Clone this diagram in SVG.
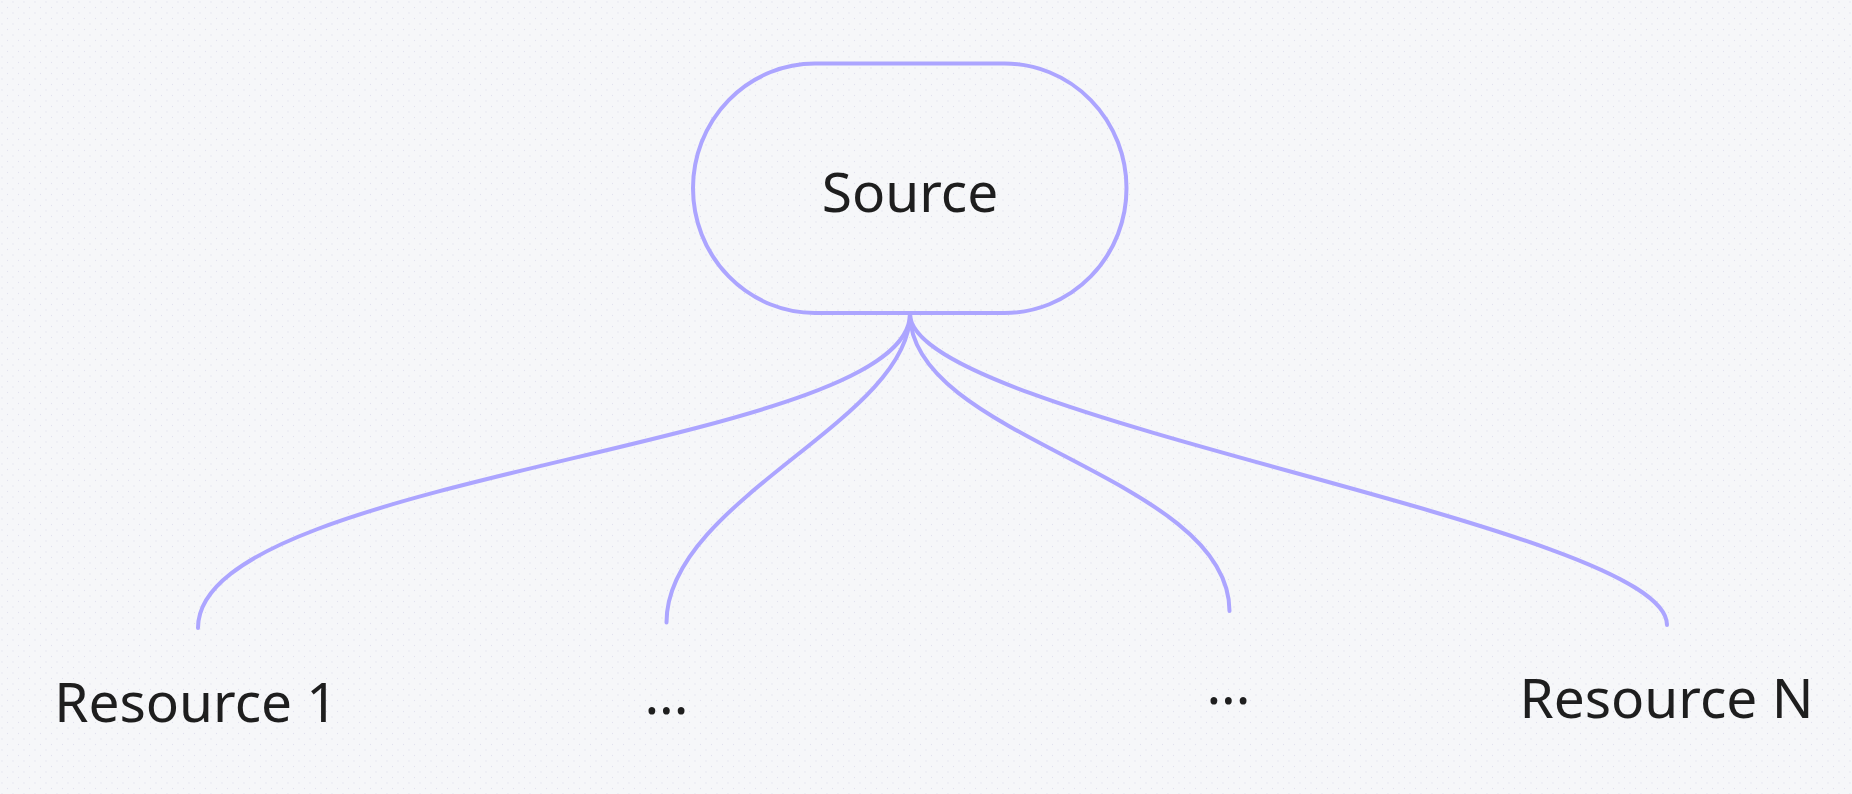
<svg xmlns="http://www.w3.org/2000/svg" width="1852" height="794" viewBox="0 0 1852 794">
  <defs>
    <pattern id="dots" width="11" height="11" patternUnits="userSpaceOnUse">
      <circle cx="2" cy="2" r="0.7" fill="#e2e2ee"/>
      <circle cx="7.5" cy="7.5" r="0.7" fill="#e2e2ee"/>
    </pattern>
  </defs>
  <style>
    .node-shape { fill: none; stroke: #aca5ff; stroke-width: 4; }
    .edge { fill: none; stroke: #aca5ff; stroke-width: 4; stroke-linecap: round; }
    .label { font-family: "Noto Sans", "Open Sans", sans-serif; font-size: 55px; fill: #1e1e1e; text-anchor: middle; }
  </style>
  <rect x="0" y="0" width="1852" height="794" fill="#f6f7f9"/>
  <rect x="0" y="0" width="1852" height="794" fill="url(#dots)"/>

  <g id="connectors">
    <path class="edge" d="M910 314 C910 447 198 473 198 628"/>
    <path class="edge" d="M910 314 C910 420 666.5 500 666.5 622.5"/>
    <path class="edge" d="M910 314 C910 439 1229.5 476 1229.5 611"/>
    <path class="edge" d="M910 314 C910 418 1667 525 1667 625"/>
  </g>

  <g id="source">
    <rect class="node-shape" x="693" y="63.5" width="433.5" height="249.5" rx="122" ry="124.75"/>
    <text class="label" x="910" y="211.5">Source</text>
  </g>

  <g id="resource-1">
    <text class="label" x="196" y="721.5">Resource 1</text>
  </g>

  <g id="ellipsis-1">
    <text class="label" x="666.5" y="714">...</text>
  </g>

  <g id="ellipsis-2">
    <text class="label" x="1228.5" y="704">...</text>
  </g>

  <g id="resource-n">
    <text class="label" x="1666.5" y="718">Resource N</text>
  </g>
</svg>
